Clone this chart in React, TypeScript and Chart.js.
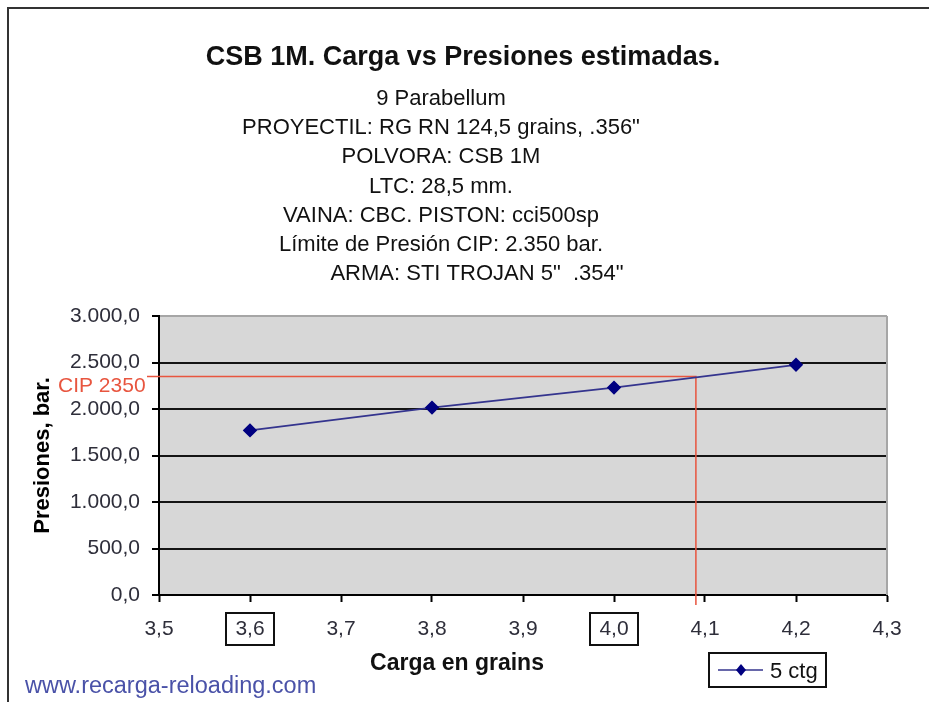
import React, { useEffect, useRef } from 'react';
import { Chart, registerables } from 'chart.js';

Chart.register(...registerables);

const FONT = "'Liberation Sans', Arial, sans-serif";
const W = 929;
const H = 702;

const chartTitle = 'CSB 1M. Carga vs Presiones estimadas.';
const subtitleLines = [
  '9 Parabellum',
  'PROYECTIL: RG RN 124,5 grains, .356"',
  'POLVORA: CSB 1M',
  'LTC: 28,5 mm.',
  'VAINA: CBC. PISTON: cci500sp',
  'Límite de Presión CIP: 2.350 bar.',
  'ARMA: STI TROJAN 5"  .354"',
];
const xAxisTitle = 'Carga en grains';
const yAxisTitle = 'Presiones, bar.';
const seriesLabel = '5 ctg';
const cargas = [3.6, 3.8, 4.0, 4.2];
const presiones = [1770, 2015, 2230, 2475];
const cipLabel = 'CIP 2350';
const cipPresion = 2350;
const cipCarga = 4.09;
const boxedCargas = [3.6, 4.0];
const footerText = 'www.recarga-reloading.com';
const xMin = 3.5;
const xMax = 4.3;
const xStep = 0.1;
const yMin = 0;
const yMax = 3000;
const yStep = 500;

const fmtX = (v: number) => (Math.round(v * 10) / 10).toFixed(1).replace('.', ',');
const fmtY = (v: number) =>
  Math.round(v).toString().replace(/\B(?=(\d{3})+(?!\d))/g, '.') + ',0';

const decorPlugin = {
  id: 'decor',
  beforeDraw(chart: any) {
    const { ctx, chartArea: a } = chart;
    ctx.save();
    ctx.fillStyle = '#ffffff';
    ctx.fillRect(0, 0, W, H);
    ctx.fillStyle = '#d7d7d7';
    ctx.fillRect(a.left, a.top, a.right - a.left, a.bottom - a.top);
    ctx.restore();
  },
  beforeDatasetsDraw(chart: any) {
    const { ctx, chartArea: a, scales } = chart;
    const x = scales.x;
    const y = scales.y;
    ctx.save();
    // plot right border
    ctx.strokeStyle = '#a6a6a6';
    ctx.lineWidth = 2;
    ctx.beginPath();
    ctx.moveTo(a.right, a.top);
    ctx.lineTo(a.right, a.bottom);
    ctx.stroke();
    // CIP limit lines
    const cy = y.getPixelForValue(cipPresion);
    const cx = x.getPixelForValue(cipCarga);
    ctx.strokeStyle = '#e8553f';
    ctx.lineWidth = 1.5;
    ctx.beginPath();
    ctx.moveTo(147, cy);
    ctx.lineTo(cx, cy);
    ctx.lineTo(cx, a.bottom + 10);
    ctx.stroke();
    ctx.fillStyle = '#e8553f';
    ctx.font = `21px ${FONT}`;
    ctx.textAlign = 'left';
    ctx.textBaseline = 'alphabetic';
    ctx.fillText(cipLabel, 58, cy + 16);
    ctx.restore();
  },
  afterDraw(chart: any) {
    const { ctx, scales } = chart;
    const x = scales.x;
    ctx.save();
    // outer frame
    ctx.strokeStyle = '#333333';
    ctx.lineWidth = 2;
    ctx.beginPath();
    ctx.moveTo(8, H + 5);
    ctx.lineTo(8, 8);
    ctx.lineTo(W + 5, 8);
    ctx.stroke();

    // titles
    ctx.fillStyle = '#111111';
    ctx.textAlign = 'center';
    ctx.textBaseline = 'alphabetic';
    ctx.font = `bold 27px ${FONT}`;
    ctx.fillText(chartTitle, 463, 65);
    ctx.font = `22px ${FONT}`;
    subtitleLines.forEach((line, i) => {
      const cxl = i === subtitleLines.length - 1 ? 477 : 441;
      ctx.fillText(line, cxl, 105 + i * 29.2);
    });

    // x axis title
    ctx.font = `bold 23px ${FONT}`;
    ctx.fillText(xAxisTitle, 457, 670);

    // boxed tick labels
    ctx.strokeStyle = '#111111';
    ctx.lineWidth = 2;
    boxedCargas.forEach((v) => {
      const px = x.getPixelForValue(v);
      ctx.strokeRect(px - 24, 613, 48, 32);
    });

    // legend
    const ds = chart.data.datasets[0];
    ctx.strokeStyle = '#111111';
    ctx.lineWidth = 2;
    ctx.strokeRect(709, 653, 117, 34);
    ctx.strokeStyle = ds.borderColor;
    ctx.lineWidth = ds.borderWidth;
    ctx.beginPath();
    ctx.moveTo(718, 670);
    ctx.lineTo(763, 670);
    ctx.stroke();
    ctx.fillStyle = ds.backgroundColor;
    ctx.beginPath();
    ctx.moveTo(741, 664);
    ctx.lineTo(746, 670);
    ctx.lineTo(741, 676);
    ctx.lineTo(736, 670);
    ctx.closePath();
    ctx.fill();
    ctx.fillStyle = '#111111';
    ctx.font = `22px ${FONT}`;
    ctx.textAlign = 'left';
    ctx.fillText(seriesLabel, 770, 678);

    // footer
    ctx.fillStyle = '#4a52a8';
    ctx.font = `23.5px ${FONT}`;
    ctx.fillText(footerText, 25, 693);
    ctx.restore();
  },
};

export default function App() {
  const canvasRef = useRef<HTMLCanvasElement | null>(null);

  useEffect(() => {
    if (!canvasRef.current) return;
    const chart = new Chart(canvasRef.current, {
      type: 'scatter',
      data: {
        datasets: [
          {
            label: seriesLabel,
            data: cargas.map((c, i) => ({ x: c, y: presiones[i] })),
            showLine: true,
            borderColor: '#34348e',
            backgroundColor: '#000080',
            borderWidth: 1.7,
            pointStyle: 'rectRot',
            pointRadius: 6,
            pointBorderColor: '#000080',
            pointBackgroundColor: '#000080',
          },
        ],
      },
      options: {
        responsive: false,
        animation: false,
        devicePixelRatio: 1,
        layout: { padding: { left: 0, right: 42, top: 316, bottom: 0 } },
        plugins: {
          legend: { display: false },
          title: { display: false },
          tooltip: { enabled: false },
        },
        scales: {
          x: {
            type: 'linear',
            min: xMin,
            max: xMax,
            afterFit: (scale: any) => {
              scale.height = 107;
            },
            ticks: {
              stepSize: xStep,
              callback: (v: any) => fmtX(Number(v)),
              font: { family: FONT, size: 21 },
              color: '#2e2e3a',
              padding: 15,
              maxRotation: 0,
              autoSkip: false,
            },
            grid: {
              drawOnChartArea: false,
              drawTicks: true,
              tickLength: 7,
              tickColor: '#000000',
              tickWidth: 2,
            },
            border: { color: '#000000', width: 2 },
          },
          y: {
            type: 'linear',
            min: yMin,
            max: yMax,
            afterFit: (scale: any) => {
              scale.width = 159;
            },
            ticks: {
              stepSize: yStep,
              callback: (v: any) => fmtY(Number(v)),
              font: { family: FONT, size: 21 },
              color: '#2e2e3a',
              padding: 12,
            },
            grid: {
              color: (c: any) => (c.tick && c.tick.value === yMax ? '#a6a6a6' : '#141414'),
              lineWidth: 2,
              drawTicks: true,
              tickLength: 7,
              tickColor: '#000000',
              tickWidth: 2,
            },
            border: { color: '#000000', width: 2 },
            title: {
              display: true,
              text: yAxisTitle,
              color: '#000000',
              font: { family: FONT, size: 22, weight: 'bold' },
              padding: { top: 30, bottom: 0 },
            },
          },
        },
      },
      plugins: [decorPlugin],
    });
    return () => chart.destroy();
  }, []);

  return (
    <div style={{ position: 'absolute', left: 0, top: 0, width: W, height: H }}>
      <canvas ref={canvasRef} width={W} height={H} style={{ display: 'block' }} />
    </div>
  );
}
